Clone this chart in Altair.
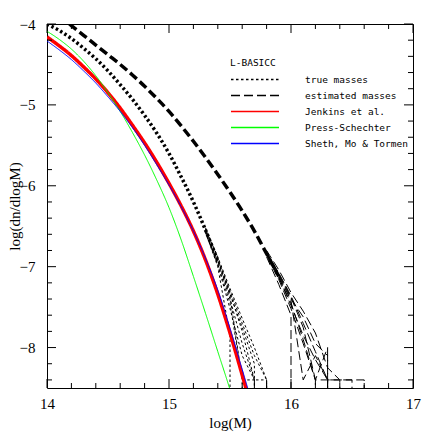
import altair as alt
import pandas as pd

# ---------------- data ----------------
series_names = ["true masses", "estimated masses", "Jenkins et al.",
                "Press-Schechter", "Sheth, Mo & Tormen"]
series_colors = ["#000000", "#000000", "#ff0000", "#00ff00", "#0000ff"]
series_dashes = [[2.5, 2.5], [9, 4], [1, 0], [1, 0], [1, 0]]

jenkins_x = [14.0, 14.1, 14.2, 14.3, 14.4, 14.5, 14.6, 14.7, 14.8, 14.9,
             15.0, 15.1, 15.2, 15.3, 15.4, 15.5, 15.6, 15.66]
jenkins_y = [-4.16, -4.27, -4.39, -4.53, -4.68, -4.85, -5.04, -5.25, -5.47, -5.71,
             -5.97, -6.25, -6.56, -6.92, -7.34, -7.82, -8.34, -8.66]

ps_x = [14.0, 14.1, 14.2, 14.3, 14.4, 14.5, 14.6, 14.7, 14.8, 14.9,
        15.0, 15.1, 15.2, 15.3, 15.4, 15.5, 15.53]
ps_y = [-4.09, -4.19, -4.31, -4.46, -4.64, -4.85, -5.08, -5.34, -5.62, -5.93,
        -6.27, -6.67, -7.12, -7.58, -8.05, -8.52, -8.67]

smt_x = [14.0, 14.1, 14.2, 14.3, 14.4, 14.5, 14.6, 14.7, 14.8, 14.9,
         15.0, 15.1, 15.2, 15.3, 15.4, 15.5, 15.6, 15.68]
smt_y = [-4.21, -4.32, -4.44, -4.58, -4.73, -4.90, -5.08, -5.28, -5.50, -5.74,
         -5.99, -6.26, -6.56, -6.90, -7.29, -7.76, -8.27, -8.68]

true_main_x = [14.0, 14.1, 14.2, 14.3, 14.4, 14.5, 14.6, 14.7, 14.8, 14.9,
               15.0, 15.1, 15.2, 15.3, 15.4]
true_main_y = [-4.00, -4.08, -4.18, -4.30, -4.43, -4.58, -4.75, -4.93, -5.13, -5.35,
               -5.60, -5.89, -6.20, -6.55, -6.93]

# individual realizations (tails); -9.5 = empty bin (drops off the plot)
true_tails = [
    ([15.3, 15.4, 15.5, 15.6, 15.7, 15.8, 15.8],
     [-6.53, -6.90, -7.30, -7.70, -8.10, -8.40, -9.5]),
    ([15.3, 15.4, 15.5, 15.6, 15.6],
     [-6.57, -6.97, -7.45, -8.40, -9.5]),
    ([15.3, 15.4, 15.5, 15.6, 15.7, 15.8, 15.8],
     [-6.54, -6.91, -7.32, -7.80, -8.40, -8.40, -9.5]),
    ([15.3, 15.4, 15.5, 15.5],
     [-6.58, -7.00, -7.85, -9.5]),
    ([15.3, 15.4, 15.5, 15.6, 15.7, 15.7],
     [-6.56, -6.94, -7.40, -7.95, -8.40, -9.5]),
    ([15.3, 15.4, 15.5, 15.6, 15.7, 15.8, 15.8],
     [-6.52, -6.88, -7.27, -7.64, -8.00, -8.40, -9.5]),
    ([15.3, 15.4, 15.5, 15.6, 15.7, 15.7],
     [-6.57, -6.98, -7.52, -8.10, -8.40, -9.5]),
    ([15.3, 15.4, 15.5, 15.6, 15.7, 15.7],
     [-6.55, -6.93, -7.36, -8.40, -8.40, -9.5]),
    ([15.3, 15.4, 15.5, 15.6, 15.7, 15.7],
     [-6.54, -6.92, -7.34, -7.75, -8.20, -9.5]),
]

est_main_x = [14.1, 14.2, 14.3, 14.4, 14.5, 14.6, 14.7, 14.8, 14.9, 15.0,
              15.1, 15.2, 15.3, 15.4, 15.5, 15.6, 15.7, 15.8, 15.9]
est_main_y = [-3.90, -4.02, -4.14, -4.26, -4.38, -4.50, -4.63, -4.77, -4.92, -5.08,
              -5.26, -5.45, -5.65, -5.86, -6.08, -6.31, -6.56, -6.84, -7.12]

est_tails = [
    ([15.8, 15.9, 16.0, 16.1, 16.2, 16.3, 16.3],
     [-6.82, -7.08, -7.36, -7.70, -8.05, -8.40, -9.5]),
    ([15.8, 15.9, 16.0, 16.1, 16.2, 16.2],
     [-6.86, -7.16, -7.52, -7.95, -8.40, -9.5]),
    ([15.8, 15.9, 16.0, 16.1, 16.2, 16.3, 16.3],
     [-6.83, -7.10, -7.40, -7.62, -7.95, -8.10, -9.5]),
    ([15.8, 15.9, 16.0, 16.0],
     [-6.88, -7.22, -7.60, -9.5]),
    ([15.8, 15.9, 16.0, 16.1, 16.2, 16.3, 16.4, 16.5, 16.5],
     [-6.80, -7.04, -7.32, -7.55, -7.82, -8.25, -8.40, -8.40, -9.5]),
    ([15.8, 15.9, 16.0, 16.1, 16.2, 16.3, 16.3],
     [-6.85, -7.14, -7.45, -7.90, -8.40, -8.00, -9.5]),
    ([15.8, 15.9, 16.0, 16.1, 16.2, 16.3, 16.3],
     [-6.84, -7.12, -7.42, -8.40, -8.10, -8.40, -9.5]),
    ([15.8, 15.9, 16.0, 16.1, 16.2, 16.3, 16.4, 16.4],
     [-6.82, -7.09, -7.38, -7.75, -8.40, -8.40, -8.40, -9.5]),
    ([15.8, 15.9, 16.0, 16.1, 16.2, 16.3, 16.4, 16.5, 16.6, 16.6],
     [-6.84, -7.13, -7.48, -7.85, -8.15, -8.40, -8.40, -8.40, -8.40, -9.5]),
]

# ---------------- build tables ----------------
smooth_rows, tail_rows = [], []


def add(target, series, group, xs, ys, width):
    for i, (xv, yv) in enumerate(zip(xs, ys)):
        target.append({"x": xv, "y": yv, "series": series, "g": group,
                       "i": i, "w": width})


add(smooth_rows, "true masses", "t0", true_main_x, true_main_y, 3.5)
add(smooth_rows, "estimated masses", "e0", est_main_x, est_main_y, 3.5)
add(smooth_rows, "Jenkins et al.", "j", jenkins_x, jenkins_y, 3.5)
add(smooth_rows, "Press-Schechter", "p", ps_x, ps_y, 1.0)
add(smooth_rows, "Sheth, Mo & Tormen", "s", smt_x, smt_y, 1.0)
for k, (xs_, ys_) in enumerate(true_tails):
    add(tail_rows, "true masses", f"t{k+1}", xs_, ys_, 1.0)
for k, (xs_, ys_) in enumerate(est_tails):
    add(tail_rows, "estimated masses", f"e{k+1}", xs_, ys_, 1.0)

smooth_df = pd.DataFrame(smooth_rows)
tail_df = pd.DataFrame(tail_rows)

# ---------------- chart ----------------
W, H = 366, 364
serif = "Liberation Serif"
mono = "DejaVu Sans Mono"

xs = alt.Scale(domain=[14, 17], nice=False, zero=False)
ys = alt.Scale(domain=[-8.5, -4], nice=False, zero=False)

x_major = [14, 15, 16, 17]
y_major = [-8, -7, -6, -5, -4]
x_minor = [round(14 + 0.2 * k, 1) for k in range(16) if k % 5 != 0]
y_minor = [round(-8.4 + 0.2 * k, 1) for k in range(22)
           if abs(round(-8.4 + 0.2 * k, 1) % 1) > 1e-9]

legend = alt.Legend(
    title="L-BASICC", orient="none", legendX=183, legendY=34,
    titleFont=mono, titleFontSize=9.5, titleFontWeight="normal", titleColor="black",
    titlePadding=5,
    labelFont=mono, labelFontSize=9.5, labelColor="black", labelOffset=61,
    symbolType="M-1,0L7,0", symbolSize=144, symbolStrokeWidth=1.5, rowPadding=4,
)

x_axis = alt.Axis(
    orient="bottom", values=x_major, format="d", ticks=False, tickSize=0,
    domain=False, grid=False, labelFont=serif, labelFontSize=15,
    labelColor="black", labelPadding=8, labelFlush=False, labelOverlap=False,
    title="log(M)", titleFont=serif, titleFontSize=15, titleFontWeight="normal",
    titleColor="black", titleY=27, titleBaseline="top")
y_axis = alt.Axis(
    orient="left", values=y_major, format="d", ticks=False, tickSize=0,
    domain=False, grid=False, labelFont=serif, labelFontSize=15,
    labelColor="black", labelPadding=12, labelFlush=False, labelOverlap=False,
    title="log(dn/dlogM)", titleFont=serif, titleFontSize=15,
    titleFontWeight="normal", titleColor="black", titleX=-25, titleY=H / 2,
    titleBaseline="bottom", titleAlign="center")

color_enc = alt.Color("series:N", scale=alt.Scale(domain=series_names, range=series_colors),
                      legend=legend)
dash_enc = alt.StrokeDash("series:N", scale=alt.Scale(domain=series_names, range=series_dashes),
                          legend=legend)

tails = alt.Chart(tail_df).mark_line(clip=True).encode(
    x=alt.X("x:Q", scale=xs, axis=x_axis),
    y=alt.Y("y:Q", scale=ys, axis=y_axis),
    color=color_enc, strokeDash=dash_enc,
    strokeWidth=alt.StrokeWidth("w:Q", scale=None),
    detail="g:N", order="i:Q",
)

smooth = alt.Chart(smooth_df).mark_line(clip=True, interpolate="monotone").encode(
    x=alt.X("x:Q", scale=xs, axis=x_axis),
    y=alt.Y("y:Q", scale=ys, axis=y_axis),
    color=color_enc, strokeDash=dash_enc,
    strokeWidth=alt.StrokeWidth("w:Q", scale=None),
    detail="g:N", order="i:Q",
)

# inward tick marks (positions through the scales)
xt_major = pd.DataFrame({"v": x_major})
xt_minor = pd.DataFrame({"v": x_minor})
yt_major = pd.DataFrame({"v": y_major})
yt_minor = pd.DataFrame({"v": y_minor})


def xticks(df, length):
    base = alt.Chart(df).mark_rule(color="black", strokeWidth=1)
    enc_x = alt.X("v:Q", scale=xs, axis=x_axis)
    return [
        base.encode(x=enc_x, y=alt.value(H), y2=alt.value(H - length)),
        base.encode(x=enc_x, y=alt.value(0), y2=alt.value(length)),
    ]


def yticks(df, length):
    base = alt.Chart(df).mark_rule(color="black", strokeWidth=1)
    enc_y = alt.Y("v:Q", scale=ys, axis=y_axis)
    return [
        base.encode(y=enc_y, x=alt.value(0), x2=alt.value(length)),
        base.encode(y=enc_y, x=alt.value(W), x2=alt.value(W - length)),
    ]


tick_layers = xticks(xt_major, 9) + xticks(xt_minor, 5) + yticks(yt_major, 9) + yticks(yt_minor, 5)

chart = alt.layer(tails, smooth, *tick_layers).properties(
    width=W, height=H,
    autosize=alt.AutoSizeParams(type="none"),
    padding={"left": 39, "top": 16, "right": 15, "bottom": 46},
).configure_view(stroke="black", strokeWidth=1)

chart.save("out.html", embed_options={"renderer": "svg", "actions": False})
